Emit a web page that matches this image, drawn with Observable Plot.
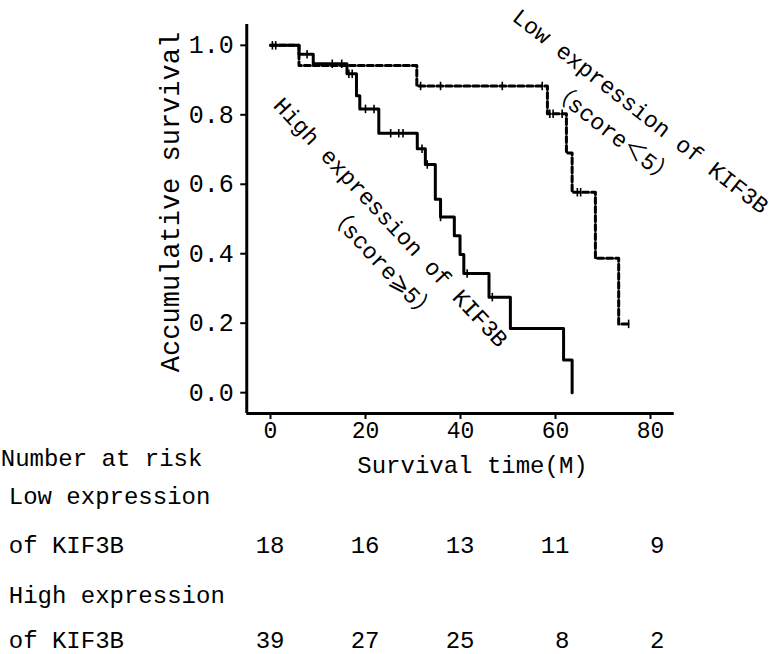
<!DOCTYPE html>
<html>
<head>
<meta charset="utf-8">
<script src="https://cdn.jsdelivr.net/npm/d3@7"></script>
<script src="https://cdn.jsdelivr.net/npm/@observablehq/plot@0.6"></script>
<style>
  html, body { margin: 0; padding: 0; background: #fff; }
  #chart svg { display: block; }
</style>
</head>
<body>
<div id="chart"></div>
<script>
// ---- Data ----
// High expression of KIF3B (score >= 5): event times (months) and survival after each step
const highTime = [0, 6, 9, 16.1, 18.1, 18.8, 22.8, 30.9, 32.6, 34.7, 35.8, 38.7, 39.9, 40.7, 46, 50.5, 61.7, 63.5];
const highSurv = [1, 0.974, 0.947, 0.918, 0.855, 0.817, 0.747, 0.702, 0.657, 0.557, 0.506, 0.452, 0.398, 0.343, 0.275, 0.185, 0.094, 0];
const highCensor = [0.4, 1.1, 7.7, 13, 15, 16.5, 17.2, 20, 21.8, 25.3, 27, 27.9, 31.9, 33, 35.8, 41.4, 46.7];

// Low expression of KIF3B (score < 5)
const lowTime = [0, 6, 30.8, 58.3, 62.3, 63.5, 68.4, 73.3, 75.8];
const lowSurv = [1, 0.942, 0.883, 0.803, 0.69, 0.577, 0.387, 0.198, 0.198];
const lowCensor = [31.6, 35.8, 48.8, 57.2, 58.8, 59.5, 61.4, 64.6, 65.3, 75.4];

// Number at risk table
const riskTimes = [0, 20, 40, 60, 80];
const riskLow = [18, 16, 13, 11, 9];
const riskHigh = [39, 27, 25, 8, 2];

// Ticks and labels
const xTicks = [0, 20, 40, 60, 80];
const yTicks = [0, 0.2, 0.4, 0.6, 0.8, 1.0];
const xDomain = [-5, 85];
const yDomain = [-0.06, 1.06];
const xLabel = "Survival time(M)";
const yLabel = "Accumulative survival";
const riskTitle = "Number at risk";
const lowLabelLines = ["Low expression", "of KIF3B"];
const highLabelLines = ["High expression", "of KIF3B"];
const highAnno = ["High expression of KIF3B", "（score⩾5）"];
const lowAnno = ["Low expression of KIF3B", "（score＜5）"];

// ---- Build tables ----
const stepAt = (times, surv, t) => {
  let s = surv[0];
  for (let i = 0; i < times.length; i++) if (times[i] <= t) s = surv[i];
  return s;
};
const highCurve = highTime.map((t, i) => ({t, s: highSurv[i]}));
const lowCurve = lowTime.map((t, i) => ({t, s: lowSurv[i]}));
const highMarks = highCensor.map(t => ({t, s: stepAt(highTime, highSurv, t)}));
const lowMarks = lowCensor.map(t => ({t, s: stepAt(lowTime, lowSurv, t)}));
const lowRisk = riskTimes.map((t, i) => ({t, n: String(riskLow[i])}));
const highRisk = riskTimes.map((t, i) => ({t, n: String(riskHigh[i])}));

const censorSymbol = {
  draw(ctx, size) {
    const h = Math.sqrt(size);
    ctx.moveTo(0, -h);
    ctx.lineTo(0, h);
  }
};

const FONT = "'Liberation Mono', 'DejaVu Sans Mono', 'Noto Sans CJK SC', monospace";
const T = {lineAnchor: "middle"};

const chart = Plot.plot({
  width: 774,
  height: 654,
  marginLeft: 246.25,
  marginRight: 100.25,
  marginTop: 24,
  marginBottom: 241,
  style: {fontFamily: FONT, fontSize: "24px", color: "#000", background: "#fff", overflow: "visible"},
  x: {domain: xDomain, label: null},
  y: {domain: yDomain, label: null},
  marks: [
    Plot.axisX({ticks: xTicks, tickFormat: d => String(d), tickSize: 6, tickPadding: 2, fontSize: 23, strokeWidth: 2, label: null}),
    Plot.axisY({ticks: yTicks, tickFormat: d3.format(".1f"), tickSize: 6, tickPadding: 7, fontSize: 25, strokeWidth: 2, label: null}),
    Plot.ruleX([xDomain[0]], {stroke: "#000", strokeWidth: 3}),
    Plot.ruleY([yDomain[0]], {stroke: "#000", strokeWidth: 3}),

    // Survival curves
    Plot.line(lowCurve, {x: "t", y: "s", curve: "step-after", stroke: "#000", strokeWidth: 3, strokeDasharray: "6,3"}),
    Plot.line(highCurve, {x: "t", y: "s", curve: "step-after", stroke: "#000", strokeWidth: 3}),
    Plot.dot(lowMarks, {x: "t", y: "s", symbol: censorSymbol, r: 2.4, stroke: "#000", strokeWidth: 1.6, fill: "none"}),
    Plot.dot(highMarks, {x: "t", y: "s", symbol: censorSymbol, r: 2.4, stroke: "#000", strokeWidth: 1.6, fill: "none"}),

    // Curve annotations
    Plot.text([highAnno[0]], {...T, x: 25.3, y: 0.49, text: d => d, rotate: 47, fontSize: 23}),
    Plot.text([highAnno[1]], {...T, x: 23.4, y: 0.372, text: d => d, rotate: 47, fontSize: 23}),
    Plot.text([lowAnno[0]], {...T, x: 77.9, y: 0.81, text: d => d, rotate: 38, fontSize: 23}),
    Plot.text([lowAnno[1]], {...T, x: 72.0, y: 0.746, text: d => d, rotate: 38, fontSize: 23}),

    // Axis titles
    Plot.text([yLabel], {...T, frameAnchor: "left", textAnchor: "middle", text: d => d, rotate: -90, dx: -76, dy: -17, fontSize: 27}),
    Plot.text([xLabel], {...T, frameAnchor: "bottom", textAnchor: "middle", text: d => d, dx: 12, dy: 52, fontSize: 24}),

    // Number at risk table
    Plot.text([riskTitle], {...T, frameAnchor: "bottom-left", text: d => d, textAnchor: "start", dx: -246, dy: 45, fontSize: 24}),
    Plot.text([lowLabelLines[0]], {...T, frameAnchor: "bottom-left", text: d => d, textAnchor: "start", dx: -238, dy: 83, fontSize: 24}),
    Plot.text([lowLabelLines[1]], {...T, frameAnchor: "bottom-left", text: d => d, textAnchor: "start", dx: -238, dy: 132, fontSize: 24}),
    Plot.text([highLabelLines[0]], {...T, frameAnchor: "bottom-left", text: d => d, textAnchor: "start", dx: -238, dy: 182, fontSize: 24}),
    Plot.text([highLabelLines[1]], {...T, frameAnchor: "bottom-left", text: d => d, textAnchor: "start", dx: -238, dy: 227, fontSize: 24}),
    Plot.text(lowRisk, {...T, x: "t", text: "n", frameAnchor: "bottom", textAnchor: "end", dx: 14, dy: 132, fontSize: 24}),
    Plot.text(highRisk, {...T, x: "t", text: "n", frameAnchor: "bottom", textAnchor: "end", dx: 14, dy: 227, fontSize: 24})
  ]
});

document.getElementById("chart").appendChild(chart);
</script>
</body>
</html>
